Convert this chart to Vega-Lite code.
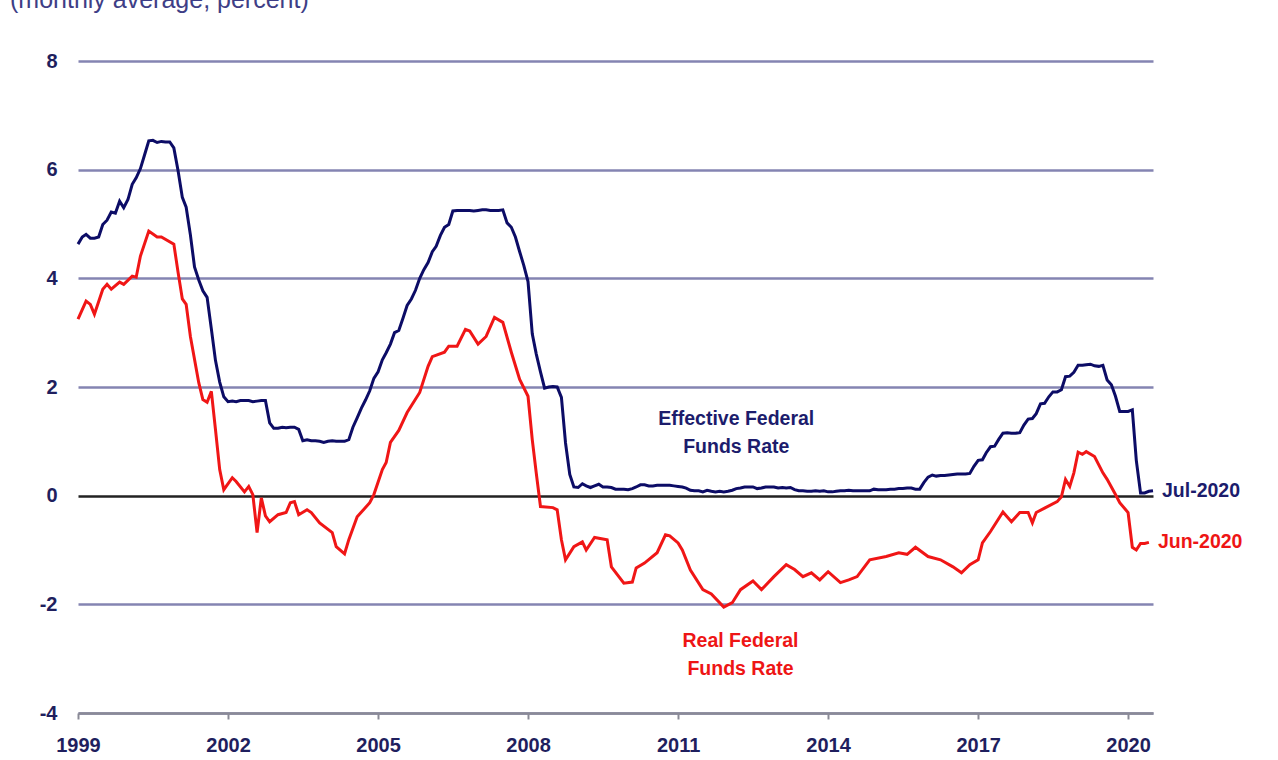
{
  "$schema": "https://vega.github.io/schema/vega-lite/v6.json",
  "autosize": "none",
  "width": 1075,
  "height": 652,
  "padding": {"left": 78, "top": 61, "right": 125, "bottom": 47},
  "background": "white",
  "config": {"view": {"stroke": null}, "font": "Liberation Sans"},
  "title": {"text": "(monthly average, percent)", "anchor": "start", "frame": "group", "orient": "top", "dx": -68, "offset": 38, "fontSize": 25, "fontWeight": "normal", "color": "#3e3e86", "font": "Liberation Sans"},
  "datasets": {
    "effr": [
      {"d":"1999-01","v":4.63},{"d":"1999-02","v":4.76},{"d":"1999-03","v":4.81},{"d":"1999-04","v":4.74},{"d":"1999-05","v":4.74},{"d":"1999-06","v":4.76},{"d":"1999-07","v":4.99},{"d":"1999-08","v":5.07},{"d":"1999-09","v":5.22},{"d":"1999-10","v":5.20},{"d":"1999-11","v":5.42},{"d":"1999-12","v":5.30},
      {"d":"2000-01","v":5.45},{"d":"2000-02","v":5.73},{"d":"2000-03","v":5.85},{"d":"2000-04","v":6.02},{"d":"2000-05","v":6.27},{"d":"2000-06","v":6.53},{"d":"2000-07","v":6.54},{"d":"2000-08","v":6.50},{"d":"2000-09","v":6.52},{"d":"2000-10","v":6.51},{"d":"2000-11","v":6.51},{"d":"2000-12","v":6.40},
      {"d":"2001-01","v":5.98},{"d":"2001-02","v":5.49},{"d":"2001-03","v":5.31},{"d":"2001-04","v":4.80},{"d":"2001-05","v":4.21},{"d":"2001-06","v":3.97},{"d":"2001-07","v":3.77},{"d":"2001-08","v":3.65},{"d":"2001-09","v":3.07},{"d":"2001-10","v":2.49},{"d":"2001-11","v":2.09},{"d":"2001-12","v":1.82},
      {"d":"2002-01","v":1.73},{"d":"2002-02","v":1.74},{"d":"2002-03","v":1.73},{"d":"2002-04","v":1.75},{"d":"2002-05","v":1.75},{"d":"2002-06","v":1.75},{"d":"2002-07","v":1.73},{"d":"2002-08","v":1.74},{"d":"2002-09","v":1.75},{"d":"2002-10","v":1.75},{"d":"2002-11","v":1.34},{"d":"2002-12","v":1.24},
      {"d":"2003-01","v":1.24},{"d":"2003-02","v":1.26},{"d":"2003-03","v":1.25},{"d":"2003-04","v":1.26},{"d":"2003-05","v":1.26},{"d":"2003-06","v":1.22},{"d":"2003-07","v":1.01},{"d":"2003-08","v":1.03},{"d":"2003-09","v":1.01},{"d":"2003-10","v":1.01},{"d":"2003-11","v":1.00},{"d":"2003-12","v":0.98},
      {"d":"2004-01","v":1.00},{"d":"2004-02","v":1.01},{"d":"2004-03","v":1.00},{"d":"2004-04","v":1.00},{"d":"2004-05","v":1.00},{"d":"2004-06","v":1.03},{"d":"2004-07","v":1.26},{"d":"2004-08","v":1.43},{"d":"2004-09","v":1.61},{"d":"2004-10","v":1.76},{"d":"2004-11","v":1.93},{"d":"2004-12","v":2.16},
      {"d":"2005-01","v":2.28},{"d":"2005-02","v":2.50},{"d":"2005-03","v":2.63},{"d":"2005-04","v":2.79},{"d":"2005-05","v":3.00},{"d":"2005-06","v":3.04},{"d":"2005-07","v":3.26},{"d":"2005-08","v":3.50},{"d":"2005-09","v":3.62},{"d":"2005-10","v":3.78},{"d":"2005-11","v":4.00},{"d":"2005-12","v":4.16},
      {"d":"2006-01","v":4.29},{"d":"2006-02","v":4.49},{"d":"2006-03","v":4.59},{"d":"2006-04","v":4.79},{"d":"2006-05","v":4.94},{"d":"2006-06","v":4.99},{"d":"2006-07","v":5.24},{"d":"2006-08","v":5.25},{"d":"2006-09","v":5.25},{"d":"2006-10","v":5.25},{"d":"2006-11","v":5.25},{"d":"2006-12","v":5.24},
      {"d":"2007-01","v":5.25},{"d":"2007-02","v":5.26},{"d":"2007-03","v":5.26},{"d":"2007-04","v":5.25},{"d":"2007-05","v":5.25},{"d":"2007-06","v":5.25},{"d":"2007-07","v":5.26},{"d":"2007-08","v":5.02},{"d":"2007-09","v":4.94},{"d":"2007-10","v":4.76},{"d":"2007-11","v":4.49},{"d":"2007-12","v":4.24},
      {"d":"2008-01","v":3.94},{"d":"2008-02","v":2.98},{"d":"2008-03","v":2.61},{"d":"2008-04","v":2.28},{"d":"2008-05","v":1.98},{"d":"2008-06","v":2.00},{"d":"2008-07","v":2.01},{"d":"2008-08","v":2.00},{"d":"2008-09","v":1.81},{"d":"2008-10","v":0.97},{"d":"2008-11","v":0.39},{"d":"2008-12","v":0.16},
      {"d":"2009-01","v":0.15},{"d":"2009-02","v":0.22},{"d":"2009-03","v":0.18},{"d":"2009-04","v":0.15},{"d":"2009-05","v":0.18},{"d":"2009-06","v":0.21},{"d":"2009-07","v":0.16},{"d":"2009-08","v":0.16},{"d":"2009-09","v":0.15},{"d":"2009-10","v":0.12},{"d":"2009-11","v":0.12},{"d":"2009-12","v":0.12},
      {"d":"2010-01","v":0.11},{"d":"2010-02","v":0.13},{"d":"2010-03","v":0.16},{"d":"2010-04","v":0.20},{"d":"2010-05","v":0.20},{"d":"2010-06","v":0.18},{"d":"2010-07","v":0.18},{"d":"2010-08","v":0.19},{"d":"2010-09","v":0.19},{"d":"2010-10","v":0.19},{"d":"2010-11","v":0.19},{"d":"2010-12","v":0.18},
      {"d":"2011-01","v":0.17},{"d":"2011-02","v":0.16},{"d":"2011-03","v":0.14},{"d":"2011-04","v":0.10},{"d":"2011-05","v":0.09},{"d":"2011-06","v":0.09},{"d":"2011-07","v":0.07},{"d":"2011-08","v":0.10},{"d":"2011-09","v":0.08},{"d":"2011-10","v":0.07},{"d":"2011-11","v":0.08},{"d":"2011-12","v":0.07},
      {"d":"2012-01","v":0.08},{"d":"2012-02","v":0.10},{"d":"2012-03","v":0.13},{"d":"2012-04","v":0.14},{"d":"2012-05","v":0.16},{"d":"2012-06","v":0.16},{"d":"2012-07","v":0.16},{"d":"2012-08","v":0.13},{"d":"2012-09","v":0.14},{"d":"2012-10","v":0.16},{"d":"2012-11","v":0.16},{"d":"2012-12","v":0.16},
      {"d":"2013-01","v":0.14},{"d":"2013-02","v":0.15},{"d":"2013-03","v":0.14},{"d":"2013-04","v":0.15},{"d":"2013-05","v":0.11},{"d":"2013-06","v":0.09},{"d":"2013-07","v":0.09},{"d":"2013-08","v":0.08},{"d":"2013-09","v":0.08},{"d":"2013-10","v":0.09},{"d":"2013-11","v":0.08},{"d":"2013-12","v":0.09},
      {"d":"2014-01","v":0.07},{"d":"2014-02","v":0.07},{"d":"2014-03","v":0.08},{"d":"2014-04","v":0.09},{"d":"2014-05","v":0.09},{"d":"2014-06","v":0.10},{"d":"2014-07","v":0.09},{"d":"2014-08","v":0.09},{"d":"2014-09","v":0.09},{"d":"2014-10","v":0.09},{"d":"2014-11","v":0.09},{"d":"2014-12","v":0.12},
      {"d":"2015-01","v":0.11},{"d":"2015-02","v":0.11},{"d":"2015-03","v":0.11},{"d":"2015-04","v":0.12},{"d":"2015-05","v":0.12},{"d":"2015-06","v":0.13},{"d":"2015-07","v":0.13},{"d":"2015-08","v":0.14},{"d":"2015-09","v":0.14},{"d":"2015-10","v":0.12},{"d":"2015-11","v":0.12},{"d":"2015-12","v":0.24},
      {"d":"2016-01","v":0.34},{"d":"2016-02","v":0.38},{"d":"2016-03","v":0.36},{"d":"2016-04","v":0.37},{"d":"2016-05","v":0.37},{"d":"2016-06","v":0.38},{"d":"2016-07","v":0.39},{"d":"2016-08","v":0.40},{"d":"2016-09","v":0.40},{"d":"2016-10","v":0.40},{"d":"2016-11","v":0.41},{"d":"2016-12","v":0.54},
      {"d":"2017-01","v":0.65},{"d":"2017-02","v":0.66},{"d":"2017-03","v":0.79},{"d":"2017-04","v":0.90},{"d":"2017-05","v":0.91},{"d":"2017-06","v":1.04},{"d":"2017-07","v":1.15},{"d":"2017-08","v":1.16},{"d":"2017-09","v":1.15},{"d":"2017-10","v":1.15},{"d":"2017-11","v":1.16},{"d":"2017-12","v":1.30},
      {"d":"2018-01","v":1.41},{"d":"2018-02","v":1.42},{"d":"2018-03","v":1.51},{"d":"2018-04","v":1.69},{"d":"2018-05","v":1.70},{"d":"2018-06","v":1.82},{"d":"2018-07","v":1.91},{"d":"2018-08","v":1.91},{"d":"2018-09","v":1.95},{"d":"2018-10","v":2.19},{"d":"2018-11","v":2.20},{"d":"2018-12","v":2.27},
      {"d":"2019-01","v":2.40},{"d":"2019-02","v":2.40},{"d":"2019-03","v":2.41},{"d":"2019-04","v":2.42},{"d":"2019-05","v":2.39},{"d":"2019-06","v":2.38},{"d":"2019-07","v":2.40},{"d":"2019-08","v":2.13},{"d":"2019-09","v":2.04},{"d":"2019-10","v":1.83},{"d":"2019-11","v":1.55},{"d":"2019-12","v":1.55},
      {"d":"2020-01","v":1.55},{"d":"2020-02","v":1.58},{"d":"2020-03","v":0.65},{"d":"2020-04","v":0.05},{"d":"2020-05","v":0.05},{"d":"2020-06","v":0.08},{"d":"2020-07","v":0.09}
    ],
    "real": [
      {"d":"1999-01","v":3.25},{"d":"1999-03","v":3.58},{"d":"1999-04","v":3.52},{"d":"1999-05","v":3.34},{"d":"1999-07","v":3.80},{"d":"1999-08","v":3.89},{"d":"1999-09","v":3.80},{"d":"1999-11","v":3.93},{"d":"1999-12","v":3.89},
      {"d":"2000-02","v":4.04},{"d":"2000-03","v":4.02},{"d":"2000-04","v":4.41},{"d":"2000-06","v":4.87},{"d":"2000-08","v":4.76},{"d":"2000-09","v":4.76},{"d":"2000-12","v":4.63},
      {"d":"2001-01","v":4.11},{"d":"2001-02","v":3.62},{"d":"2001-03","v":3.52},{"d":"2001-04","v":2.93},{"d":"2001-06","v":2.08},{"d":"2001-07","v":1.77},{"d":"2001-08","v":1.72},{"d":"2001-09","v":1.92},{"d":"2001-10","v":1.22},{"d":"2001-11","v":0.48},{"d":"2001-12","v":0.11},
      {"d":"2002-02","v":0.33},{"d":"2002-03","v":0.26},{"d":"2002-05","v":0.07},{"d":"2002-06","v":0.17},{"d":"2002-07","v":0.02},{"d":"2002-08","v":-0.68},{"d":"2002-09","v":-0.04},{"d":"2002-10","v":-0.37},{"d":"2002-11","v":-0.48},
      {"d":"2003-01","v":-0.35},{"d":"2003-03","v":-0.31},{"d":"2003-04","v":-0.13},{"d":"2003-05","v":-0.11},{"d":"2003-06","v":-0.35},{"d":"2003-08","v":-0.26},{"d":"2003-09","v":-0.31},{"d":"2003-11","v":-0.50},
      {"d":"2004-02","v":-0.68},{"d":"2004-03","v":-0.94},{"d":"2004-05","v":-1.07},{"d":"2004-06","v":-0.81},{"d":"2004-08","v":-0.39},{"d":"2004-11","v":-0.13},{"d":"2004-12","v":0.02},
      {"d":"2005-02","v":0.48},{"d":"2005-03","v":0.61},{"d":"2005-04","v":0.98},{"d":"2005-06","v":1.20},{"d":"2005-08","v":1.53},{"d":"2005-11","v":1.90},
      {"d":"2006-01","v":2.38},{"d":"2006-02","v":2.56},{"d":"2006-05","v":2.64},{"d":"2006-06","v":2.75},{"d":"2006-08","v":2.75},{"d":"2006-10","v":3.06},{"d":"2006-11","v":3.03},
      {"d":"2007-01","v":2.79},{"d":"2007-03","v":2.93},{"d":"2007-05","v":3.28},{"d":"2007-07","v":3.19},{"d":"2007-09","v":2.64},{"d":"2007-11","v":2.14},
      {"d":"2008-01","v":1.83},{"d":"2008-02","v":1.03},{"d":"2008-03","v":0.42},{"d":"2008-04","v":-0.20},{"d":"2008-07","v":-0.22},{"d":"2008-08","v":-0.26},{"d":"2008-09","v":-0.81},{"d":"2008-10","v":-1.18},{"d":"2008-12","v":-0.94},
      {"d":"2009-02","v":-0.85},{"d":"2009-03","v":-1.00},{"d":"2009-05","v":-0.77},{"d":"2009-08","v":-0.81},{"d":"2009-09","v":-1.31},{"d":"2009-12","v":-1.61},
      {"d":"2010-02","v":-1.59},{"d":"2010-03","v":-1.33},{"d":"2010-05","v":-1.24},{"d":"2010-08","v":-1.05},{"d":"2010-10","v":-0.72},{"d":"2010-11","v":-0.74},
      {"d":"2011-01","v":-0.87},{"d":"2011-02","v":-1.00},{"d":"2011-04","v":-1.37},{"d":"2011-07","v":-1.73},{"d":"2011-09","v":-1.81},{"d":"2011-12","v":-2.05},
      {"d":"2012-02","v":-1.97},{"d":"2012-04","v":-1.73},{"d":"2012-07","v":-1.57},{"d":"2012-09","v":-1.73},{"d":"2012-12","v":-1.49},
      {"d":"2013-03","v":-1.27},{"d":"2013-05","v":-1.36},{"d":"2013-07","v":-1.49},{"d":"2013-09","v":-1.42},{"d":"2013-11","v":-1.55},
      {"d":"2014-01","v":-1.40},{"d":"2014-04","v":-1.60},{"d":"2014-06","v":-1.55},{"d":"2014-08","v":-1.49},{"d":"2014-11","v":-1.18},
      {"d":"2015-03","v":-1.12},{"d":"2015-06","v":-1.05},{"d":"2015-08","v":-1.08},{"d":"2015-10","v":-0.95},
      {"d":"2016-01","v":-1.12},{"d":"2016-04","v":-1.18},{"d":"2016-07","v":-1.31},{"d":"2016-09","v":-1.42},{"d":"2016-11","v":-1.27},
      {"d":"2017-01","v":-1.18},{"d":"2017-02","v":-0.87},{"d":"2017-04","v":-0.66},{"d":"2017-07","v":-0.30},{"d":"2017-09","v":-0.48},{"d":"2017-11","v":-0.31},
      {"d":"2018-01","v":-0.31},{"d":"2018-02","v":-0.50},{"d":"2018-03","v":-0.31},{"d":"2018-05","v":-0.23},{"d":"2018-08","v":-0.11},{"d":"2018-09","v":-0.02},{"d":"2018-10","v":0.30},{"d":"2018-11","v":0.17},{"d":"2018-12","v":0.42},
      {"d":"2019-01","v":0.80},{"d":"2019-02","v":0.76},{"d":"2019-03","v":0.81},{"d":"2019-05","v":0.72},{"d":"2019-07","v":0.42},{"d":"2019-08","v":0.30},{"d":"2019-10","v":0.02},{"d":"2019-11","v":-0.13},
      {"d":"2020-01","v":-0.31},{"d":"2020-02","v":-0.95},{"d":"2020-03","v":-1.00},{"d":"2020-04","v":-0.88},{"d":"2020-05","v":-0.88},{"d":"2020-06","v":-0.86}
    ],
    "notes": [
      {"d":"2012-03","v":1.42,"t":"Effective Federal\nFunds Rate","s":"EFFR"},
      {"d":"2012-04","v":-2.68,"t":"Real Federal\nFunds Rate","s":"Real"}
    ],
    "ends": [
      {"d":"2020-07","v":0.09,"t":"Jul-2020","s":"EFFR"},
      {"d":"2020-06","v":-0.86,"t":"Jun-2020","s":"Real"}
    ]
  },
  "encoding": {
    "x": {"field": "d", "type": "temporal",
      "scale": {"type": "utc", "domain": [{"year": 1999, "month": 1, "date": 1, "utc": true}, {"year": 2020, "month": 7, "date": 1, "utc": true}]},
      "axis": {"title": null, "values": [{"year": 1999, "utc": true}, {"year": 2002, "utc": true}, {"year": 2005, "utc": true}, {"year": 2008, "utc": true}, {"year": 2011, "utc": true}, {"year": 2014, "utc": true}, {"year": 2017, "utc": true}, {"year": 2020, "utc": true}],
        "format": "%Y", "formatType": "utc", "grid": false, "labelFlush": false,
        "domainColor": "#8a8a96", "domainWidth": 2.5, "tickColor": "#8a8a96", "tickWidth": 2, "tickSize": 6,
        "labelPadding": 16, "labelFontSize": 20, "labelFontWeight": "bold", "labelColor": "#1f1f5e", "labelFont": "Liberation Sans"}},
    "y": {"field": "v", "type": "quantitative",
      "scale": {"domain": [-4, 8], "nice": false},
      "axis": {"title": null, "values": [-4, -2, 0, 2, 4, 6, 8], "labelExpr": "'' + datum.value", "grid": true,
        "gridColor": {"condition": {"test": "datum.value === 0", "value": "#222222"}, "value": "#8484b2"},
        "gridWidth": 2.5, "domain": false, "ticks": false, "tickSize": 0, "labelPadding": 21,
        "labelFontSize": 20, "labelFontWeight": "bold", "labelColor": "#1f1f5e", "labelFont": "Liberation Sans"}}
  },
  "layer": [
    {"data": {"name": "effr"}, "mark": {"type": "line", "color": "#0c0c66", "strokeWidth": 3}},
    {"data": {"name": "real"}, "mark": {"type": "line", "color": "#f01616", "strokeWidth": 3}},
    {"data": {"name": "notes"}, "mark": {"type": "text", "align": "center", "baseline": "middle", "fontSize": 19.5, "fontWeight": "bold", "lineBreak": "\n", "lineHeight": 28, "font": "Liberation Sans"},
      "encoding": {"text": {"field": "t"}, "color": {"field": "s", "type": "nominal", "scale": {"domain": ["EFFR", "Real"], "range": ["#1c1c6c", "#ee1515"]}, "legend": null}}},
    {"data": {"name": "ends"}, "mark": {"type": "text", "align": "left", "baseline": "middle", "dx": 9, "fontSize": 19.5, "fontWeight": "bold", "font": "Liberation Sans"},
      "encoding": {"text": {"field": "t"}, "color": {"field": "s", "type": "nominal", "scale": {"domain": ["EFFR", "Real"], "range": ["#1c1c6c", "#ee1515"]}, "legend": null}}}
  ]
}
